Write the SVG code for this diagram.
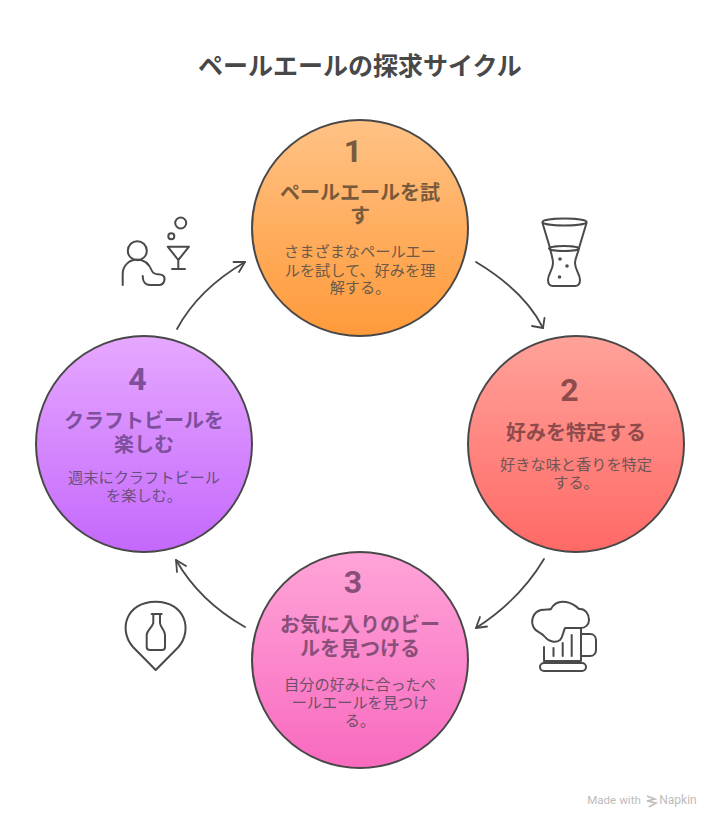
<svg xmlns="http://www.w3.org/2000/svg" width="720" height="828" viewBox="0 0 720 828">
<style>
text{font-family:"Roboto","Noto Sans CJK JP",sans-serif;text-anchor:middle}
.t{font-size:25px;font-weight:700;fill:#484848}
.n{font-size:32px;font-weight:700}
.h{font-size:20px;font-weight:700}
.b{font-size:15.2px;font-weight:400}
.c{stroke:#484848;stroke-width:2}
.ic{fill:none;stroke:#4a4a4a;stroke-width:2;stroke-linecap:round;stroke-linejoin:round}
.a{fill:none;stroke:#484848;stroke-width:1.800;stroke-linecap:round;stroke-linejoin:round}
.f{font-size:11.600px;fill:#bcbcbc}
</style>
<defs>
<linearGradient id="g1" x1="0" y1="0" x2="0" y2="1"><stop offset="0" stop-color="#ffc285"/><stop offset="1" stop-color="#ff9a3a"/></linearGradient>
<linearGradient id="g2" x1="0" y1="0" x2="0" y2="1"><stop offset="0" stop-color="#ffa29a"/><stop offset="1" stop-color="#ff6966"/></linearGradient>
<linearGradient id="g3" x1="0" y1="0" x2="0" y2="1"><stop offset="0" stop-color="#ffa4d8"/><stop offset="1" stop-color="#f86abf"/></linearGradient>
<linearGradient id="g4" x1="0" y1="0" x2="0" y2="1"><stop offset="0" stop-color="#e6a8ff"/><stop offset="1" stop-color="#c468fc"/></linearGradient>
</defs>
<rect width="720" height="828" fill="#fff"/>
<text class="t" x="360" y="75">ペールエールの探求サイクル</text>
<g id="connectors">
<path class="a" d="M476 262C506 280 530 302 543 328"/><path class="a" d="M532 326L543 328L544.500 318"/>
<path class="a" d="M544 559C528 586 504 610 476 628"/><path class="a" d="M487 626.500L476 628L480 617"/>
<path class="a" d="M245 627C215 610 192 588 176 560"/><path class="a" d="M177 572L176 560L186 566"/>
<path class="a" d="M177 329C192 301 216 279 245 262"/><path class="a" d="M233.500 262L245 262L239 272"/>
</g>
<g id="node1" fill="#7a5a3c"><circle class="c" cx="360" cy="228" r="108" fill="url(#g1)"/>
<text class="n" x="353" y="161.500">1</text>
<text class="h" x="360" y="200">ペールエールを試</text><text class="h" x="360" y="223">す</text>
<text class="b" fill="#6b5a4a"><tspan x="360" y="257">さまざまなペールエー</tspan><tspan x="360" y="276">ルを試して、好みを理</tspan><tspan x="360" y="293">解する。</tspan></text></g>
<g id="node2" fill="#8f4b4b"><circle class="c" cx="576" cy="444" r="108" fill="url(#g2)"/>
<text class="n" x="569.500" y="401">2</text>
<text class="h" x="576" y="439.500">好みを特定する</text>
<text class="b" fill="#6e5555"><tspan x="576" y="470">好きな味と香りを特定</tspan><tspan x="576" y="488">する。</tspan></text></g>
<g id="node3" fill="#8a4f78"><circle class="c" cx="360" cy="660" r="108" fill="url(#g3)"/>
<text class="n" x="353" y="592.500">3</text>
<text class="h" x="360" y="632">お気に入りのビー</text><text class="h" x="360" y="655.500">ルを見つける</text>
<text class="b" fill="#6e4f66"><tspan x="360" y="690">自分の好みに合ったペ</tspan><tspan x="360" y="708">ールエールを見つけ</tspan><tspan x="360" y="726">る。</tspan></text></g>
<g id="node4" fill="#7e4f9d"><circle class="c" cx="144" cy="444" r="108" fill="url(#g4)"/>
<text class="n" x="137.500" y="389.500">4</text>
<text class="h" x="144" y="427.500">クラフトビールを</text><text class="h" x="144" y="451.500">楽しむ</text>
<text class="b" fill="#684f7e"><tspan x="144" y="483">週末にクラフトビール</tspan><tspan x="144" y="501">を楽しむ。</tspan></text></g>
<g id="icon-glass" class="ic">
<ellipse cx="564.500" cy="222" rx="22" ry="3.500"/>
<path d="M542.500 223L550 248C551 254 553 258 553 263C553 270 548 274 548 280C548 285 550 286 553 286H575C578 286 580 285 580 280C580 274 575 270 575 263C575 258 578 254 579 248L586.500 223"/>
<ellipse cx="564" cy="248.500" rx="15" ry="2.500"/>
<circle cx="560" cy="259" r=".8"/><circle cx="567" cy="266" r=".8"/><circle cx="559.500" cy="277" r=".8"/>
</g>
<g id="icon-person" class="ic">
<circle cx="137.300" cy="250.700" r="9.500"/>
<path d="M122.700 285V274C122.700 265 130 259.500 137 259.500C146 259.500 150 266 152 271C154 276 159 273 163 275.500C166 278 164.500 285 159 285H150C145 285 142.700 281 142.700 276"/>
<path d="M167.700 246.700H189L178.300 260ZM178.300 260V269M172 269H185"/>
<circle cx="171.300" cy="236.300" r="3"/><circle cx="180.700" cy="223" r="5.500"/>
</g>
<g id="icon-mug" class="ic">
<path d="M565 628C563 632 563 637 560 640C556 643 549 642 545 637C541 632 536 632 534 628C530 621 533 612 541 610C547 609 549 610 551 609C554 603 560 601 566 602C572 603 576 606 579 609C585 608 589 614 589 620C589 625 585 628 581 628Z"/>
<path d="M544 647V661M553.500 648V656M562.700 643V656M571.700 635V656M581 628V661M544 661H581"/>
<path d="M581 634H590C594 634 596 637 596 640V650C596 653 594 656 590 656H581"/>
<rect x="540" y="663" width="46" height="8" rx="4"/>
</g>
<g id="icon-bottle" class="ic">
<path d="M155.700 670L133 647C118 630 126 601.700 155.700 601.700C185 601.700 193 630 178.500 647Z"/>
<path d="M151.700 614H161.700M153.300 614V623C152 628 146.700 630 146.700 635V647C146.700 649 148 650 150 650H162C164 650 165 649 165 647V635C165 630 160.500 628 160 623V614"/>
</g>
<g id="footer"><text class="f" x="614" y="804">Made with</text>
<path d="M647 796L655 799L647 801L656 803L649 807" fill="none" stroke="#bcbcbc" stroke-width="1.500"/>
<text class="f" x="678" y="804" style="font-size:12px">Napkin</text></g>
</svg>
